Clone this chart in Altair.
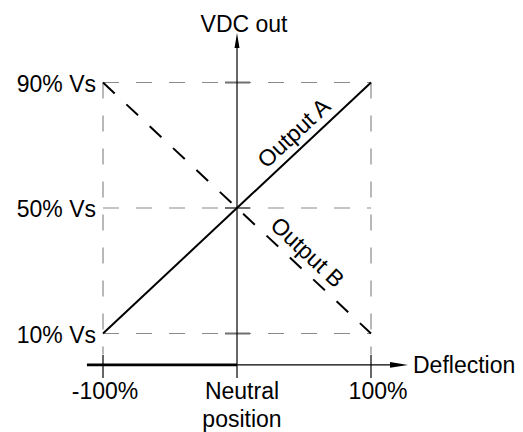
import altair as alt
import pandas as pd

# ---- data ----
deflection = [-100, 100]          # % deflection at the ends
output_a = [10, 90]               # % Vs, Output A
output_b = [90, 10]               # % Vs, Output B
levels = [10, 50, 90]             # % Vs guide levels
level_labels = ["10% Vs", "50% Vs", "90% Vs"]
x_ticks = [-100, 0, 100]
x_tick_labels = ["-100%", "Neutral\nposition", "100%"]

W, H = 507, 424
XD = [-170.9, 207.46]
YD = [-21.39, 113.75]
FONT = "Liberation Sans"
FS = 23

xs = alt.Scale(domain=XD, nice=False, zero=False)
ys = alt.Scale(domain=YD, nice=False, zero=False)


def X(f="x"):
    return alt.X(f"{f}:Q", scale=xs, axis=None)


def Y(f="y"):
    return alt.Y(f"{f}:Q", scale=ys, axis=None)


lines = pd.DataFrame({
    "x": deflection * 2,
    "y": output_a + output_b,
    "s": ["A", "A", "B", "B"],
})

guides_h = pd.DataFrame({"x": [deflection[0]] * 3, "x2": [deflection[1]] * 3, "y": levels})
guides_v = pd.DataFrame({"x": deflection, "y": [levels[-1]] * 2, "y2": [3.3, 3.3]})

guide_h = alt.Chart(guides_h).mark_rule(color="#8a8a8a", strokeWidth=1.2, strokeDash=[16, 17]).encode(
    x=X(), x2="x2:Q", y=Y())
guide_v = alt.Chart(guides_v).mark_rule(color="#8a8a8a", strokeWidth=1.2, strokeDash=[16, 17]).encode(
    x=X(), y=Y(), y2="y2:Q")

ytick = alt.Chart(pd.DataFrame({"y": levels})).mark_rule(color="#707070", strokeWidth=2).encode(
    x=alt.X("a:Q", scale=xs, axis=None), x2="b:Q", y=Y()
).transform_calculate(a="-9", b="9.7")

# axes
yaxis = alt.Chart(pd.DataFrame({"x": [0], "y": [-4.2], "y2": [101]})).mark_rule(
    color="black", strokeWidth=1.2).encode(x=X(), y=Y(), y2="y2:Q")
xaxis_thick = alt.Chart(pd.DataFrame({"x": [-112], "x2": [0], "y": [0]})).mark_rule(
    color="black", strokeWidth=2.6).encode(x=X(), x2="x2:Q", y=Y())
xaxis_thin = alt.Chart(pd.DataFrame({"x": [0], "x2": [116], "y": [0]})).mark_rule(
    color="black", strokeWidth=1.2).encode(x=X(), x2="x2:Q", y=Y())
xticks = alt.Chart(pd.DataFrame({"x": [x_ticks[0], x_ticks[2]], "y": [3.15, 3.15], "y2": [-4.2, -4.2]})).mark_rule(
    color="black", strokeWidth=1.2).encode(x=X(), y=Y(), y2="y2:Q")

arrow_x = alt.Chart(pd.DataFrame({"x": [120.9], "y": [0]})).mark_point(
    shape="M1,0L-1,-0.33L-1,0.33Z", filled=True, color="black", opacity=1, size=324).encode(x=X(), y=Y())
arrow_y = alt.Chart(pd.DataFrame({"x": [0], "y": [103.4]})).mark_point(
    shape="M0,-1L0.33,1L-0.33,1Z", filled=True, color="black", opacity=1, size=225).encode(x=X(), y=Y())

line_a = alt.Chart(lines).transform_filter("datum.s=='A'").mark_line(
    color="black", strokeWidth=2).encode(x=X(), y=Y())
line_b = alt.Chart(lines).transform_filter("datum.s=='B'").mark_line(
    color="black", strokeWidth=2, strokeDash=[16, 16]).encode(x=X(), y=Y())

# texts
lvl = alt.Chart(pd.DataFrame({"x": [deflection[0]] * 3, "y": levels, "t": level_labels})).mark_text(
    align="right", baseline="alphabetic", dx=-7, dy=9, font=FONT, fontSize=FS, color="black").encode(
    x=X(), y=Y(), text="t:N")

def xlab(i, dx, dy=34):
    return alt.Chart(pd.DataFrame({"x": [x_ticks[i]], "y": [0], "t": [x_tick_labels[i]]})).mark_text(
        align="center", baseline="alphabetic", dx=dx, dy=dy, font=FONT, fontSize=FS, color="black",
        lineBreak="\n", lineHeight=28).encode(x=X(), y=Y(), text="t:N")

xl = [xlab(0, 2), xlab(1, 5), xlab(2, 7)]

vdc = alt.Chart(pd.DataFrame({"x": [0], "y": [105.8], "t": ["VDC out"]})).mark_text(
    align="center", baseline="alphabetic", dx=7, dy=-1, font=FONT, fontSize=FS, color="black").encode(
    x=X(), y=Y(), text="t:N")
defl = alt.Chart(pd.DataFrame({"x": [127.6], "y": [0], "t": ["Deflection"]})).mark_text(
    align="left", baseline="middle", dx=5, dy=1, font=FONT, fontSize=FS, color="black").encode(
    x=X(), y=Y(), text="t:N")

lab_a = alt.Chart(pd.DataFrame({"x": [50.5], "y": [70.2], "t": ["Output A"]})).mark_text(
    align="center", baseline="alphabetic", angle=317, dy=-8, font=FONT, fontSize=FS, color="black").encode(
    x=X(), y=Y(), text="t:N")
lab_b = alt.Chart(pd.DataFrame({"x": [44.5], "y": [32.2], "t": ["Output B"]})).mark_text(
    align="center", baseline="alphabetic", angle=43, dy=-8, font=FONT, fontSize=FS, color="black").encode(
    x=X(), y=Y(), text="t:N")

chart = alt.layer(
    guide_h, guide_v, ytick, yaxis, xaxis_thick, xaxis_thin, xticks, arrow_x, arrow_y,
    line_a, line_b, lvl, *xl, vdc, defl, lab_a, lab_b
).properties(
    width=W, height=H, padding=0, background="white",
    autosize=alt.AutoSizeParams(type="none"),
).configure_view(stroke=None)

chart.save("out.html", embed_options={"renderer": "svg", "actions": False})
